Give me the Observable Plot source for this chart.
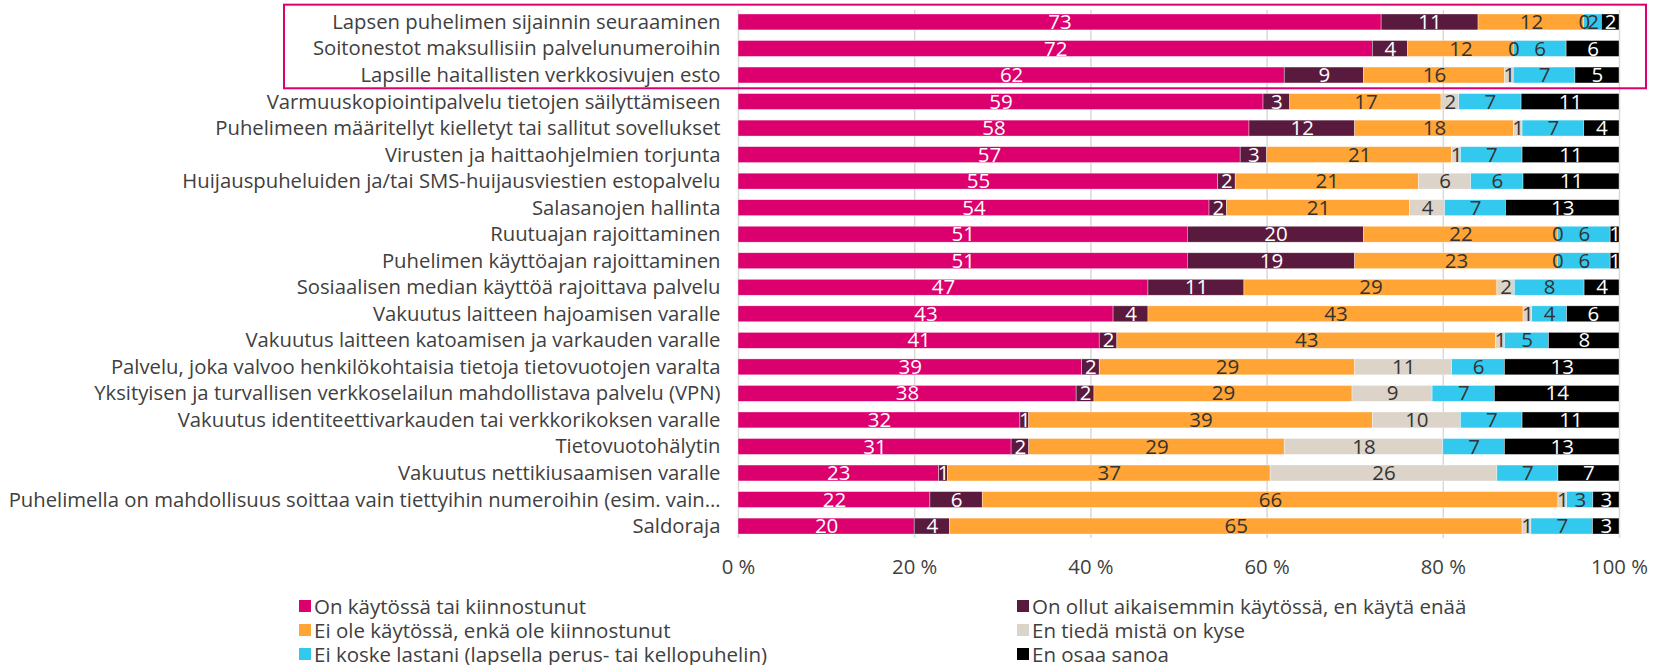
<!DOCTYPE html>
<html>
<head>
<meta charset="utf-8">
<script src="https://cdn.jsdelivr.net/npm/d3@7"></script>
<script src="https://cdn.jsdelivr.net/npm/@observablehq/plot@0.6"></script>
<style>
  html, body { margin: 0; padding: 0; background: #fff; }
  #wrap { position: relative; width: 1661px; height: 665px; font-family: "Open Sans", sans-serif; }
  #legend { position: absolute; left: 299px; top: 594px; display: grid; grid-template-columns: 718px auto; row-gap: 0; font-size: 20.5px; line-height: 22px; color: #404040; }
  .li { display: flex; align-items: center; height: 24px; white-space: nowrap; }
  .li span { display: block; line-height: 22px; height: 22px; }
  .sw { width: 12px; height: 12px; margin-right: 3px; flex: none; }
</style>
</head>
<body>
<div id="wrap"><div id="chart"></div><div id="legend"></div></div>
<script>
const items = [
  "Lapsen puhelimen sijainnin seuraaminen",
  "Soitonestot maksullisiin palvelunumeroihin",
  "Lapsille haitallisten verkkosivujen esto",
  "Varmuuskopiointipalvelu tietojen säilyttämiseen",
  "Puhelimeen määritellyt kielletyt tai sallitut sovellukset",
  "Virusten ja haittaohjelmien torjunta",
  "Huijauspuheluiden ja/tai SMS-huijausviestien estopalvelu",
  "Salasanojen hallinta",
  "Ruutuajan rajoittaminen",
  "Puhelimen käyttöajan rajoittaminen",
  "Sosiaalisen median käyttöä rajoittava palvelu",
  "Vakuutus laitteen hajoamisen varalle",
  "Vakuutus laitteen katoamisen ja varkauden varalle",
  "Palvelu, joka valvoo henkilökohtaisia tietoja tietovuotojen varalta",
  "Yksityisen ja turvallisen verkkoselailun mahdollistava palvelu (VPN)",
  "Vakuutus identiteettivarkauden tai verkkorikoksen varalle",
  "Tietovuotohälytin",
  "Vakuutus nettikiusaamisen varalle",
  "Puhelimella on mahdollisuus soittaa vain tiettyihin numeroihin (esim. vain…",
  "Saldoraja"
];
const categories = [
  "On käytössä tai kiinnostunut",
  "On ollut aikaisemmin käytössä, en käytä enää",
  "Ei ole käytössä, enkä ole kiinnostunut",
  "En tiedä mistä on kyse",
  "Ei koske lastani (lapsella perus- tai kellopuhelin)",
  "En osaa sanoa"
];
const colors = ["#db006e", "#5a1a3e", "#ffa435", "#dcd3c9", "#33c9ee", "#000000"];
const textColors = ["#ffffff", "#ffffff", "#333333", "#333333", "#333333", "#ffffff"];

const onKaytossa     = [73,72,62,59,58,57,55,54,51,51,47,43,41,39,38,32,31,23,22,20];
const aiemmin        = [11, 4, 9, 3,12, 3, 2, 2,20,19,11, 4, 2, 2, 2, 1, 2, 1, 6, 4];
const eiKiinnostunut = [12,12,16,17,18,21,21,21,22,23,29,43,43,29,29,39,29,37,66,65];
const enTieda        = [ 0, 0, 1, 2, 1, 1, 6, 4, 0, 0, 2, 1, 1,11, 9,10,18,26, 1, 1];
const eiKoske        = [ 2, 6, 7, 7, 7, 7, 6, 7, 6, 6, 8, 4, 5, 6, 7, 7, 7, 7, 3, 7];
const enOsaa         = [ 2, 6, 5,11, 4,11,11,13, 1, 1, 4, 6, 8,13,14,11,13, 7, 3, 3];
const xTicks = [0, 0.2, 0.4, 0.6, 0.8, 1];

(function () {
const series = [onKaytossa, aiemmin, eiKiinnostunut, enTieda, eiKoske, enOsaa];
const data = [];
items.forEach((item, i) => {
  series.forEach((arr, c) => {
    data.push({item, cat: categories[c], ci: c, value: arr[i]});
  });
});

const stackOpts = {x: "value", y: "item", z: "cat", offset: "normalize", order: categories};

const chart = Plot.plot({
  width: 1661,
  height: 592,
  marginLeft: 738,
  marginRight: 42,
  marginTop: 10,
  marginBottom: 54,
  style: {fontFamily: "Open Sans, sans-serif", fontSize: "20.3px", color: "#404040", background: "white"},
  x: {domain: [0, 1], ticks: xTicks, tickFormat: d => Math.round(d * 100) + " %", label: null, tickSize: 0, tickPadding: 21},
  y: {domain: items, label: null, tickSize: 0, tickPadding: 18, paddingInner: 0.4, paddingOuter: 0.15, round: false},
  color: {domain: categories, range: colors},
  marks: [
    Plot.gridX(xTicks, {stroke: "#d9d9d9", strokeOpacity: 1, strokeWidth: 1.5}),
    Plot.barX(data, Plot.stackX({...stackOpts, fill: "cat", stroke: "#ffffff", strokeWidth: 0.6, strokeOpacity: 0.6})),
    Plot.text(data, Plot.stackX({...stackOpts, text: d => textColors[d.ci] === "#ffffff" ? String(d.value) : "", fill: "#ffffff", fontSize: 20.5})),
    Plot.text(data, Plot.stackX({...stackOpts, text: d => textColors[d.ci] !== "#ffffff" ? String(d.value) : "", fill: "#333333", fontSize: 20.5}))
  ]
});
document.getElementById("chart").appendChild(chart);

// highlight box around the first three rows
const ys = chart.scale("y");
const xs = chart.scale("x");
const step = ys.step, bw = ys.bandwidth;
const gap = step - bw;
const boxTop = ys.apply(items[0]) - gap / 2 - 4;
const boxBottom = ys.apply(items[2]) + bw + gap / 2;
const boxLeft = xs.apply(0) - 454;
const boxRight = xs.apply(1) + 27;
d3.select(chart).append("rect")
  .attr("x", boxLeft).attr("y", boxTop)
  .attr("width", boxRight - boxLeft).attr("height", boxBottom - boxTop)
  .attr("fill", "none").attr("stroke", "#db006e").attr("stroke-width", 2);

// legend
const legend = d3.select("#legend");
categories.forEach((c, i) => {
  const li = legend.append("div").attr("class", "li");
  li.append("div").attr("class", "sw").style("background", colors[i]);
  li.append("span").text(c);
});
})();
</script>
</body>
</html>
